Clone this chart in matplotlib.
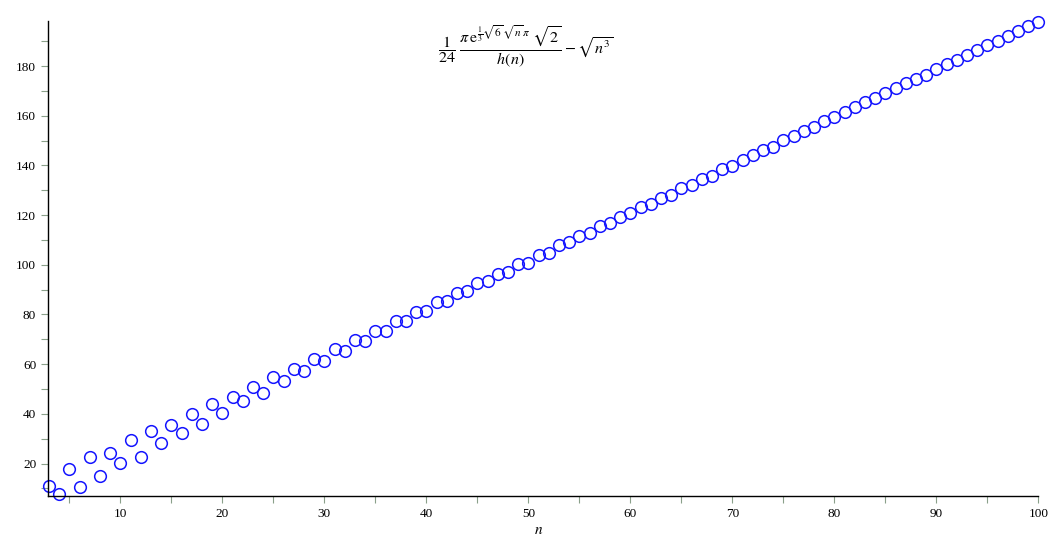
import numpy as np
import matplotlib
matplotlib.use("Agg")
import matplotlib.pyplot as plt
from matplotlib.ticker import MultipleLocator

plt.rcParams["mathtext.fontset"] = "stix"

# n values plotted
n_vals = list(range(3, 101))

# values, n = 3 .. 100
f_vals = [
    10.8, 7.7, 17.7, 10.4, 22.5, 14.9, 24.2, 20.1, 29.3, 22.5,   # 3-12
    33.2, 28.2, 35.4, 32.2, 39.8, 35.8, 43.8, 40.2, 46.7, 45.2,   # 13-22
    50.7, 48.4, 54.7, 53.1, 58.1, 57.2, 62.0, 61.3, 66.0, 65.3,   # 23-32
    69.6, 69.2, 73.2, 73.2, 77.3, 77.3, 81.0, 81.4, 85.0, 85.4,   # 33-42
    88.6, 89.5, 92.7, 93.5, 96.3, 97.0, 100.3, 100.9, 103.9, 104.9,  # 43-52
    107.8, 109.1, 111.5, 112.7, 115.5, 116.8, 119.1, 120.7, 123.1, 124.5,  # 53-62
    126.8, 128.3, 130.9, 132.3, 134.5, 135.9, 138.4, 139.8, 142.2, 144.1,  # 63-72
    146.1, 147.6, 150.2, 151.9, 153.9, 155.5, 157.8, 159.5, 161.4, 163.5,  # 73-82
    165.4, 167.2, 169.0, 171.1, 173.1, 174.8, 176.6, 178.7, 180.7, 182.3,  # 83-92
    184.5, 186.5, 188.4, 190.0, 192.1, 194.0, 196.0, 197.6,  # 93-100
]

x_ticks = [10, 20, 30, 40, 50, 60, 70, 80, 90, 100]
y_ticks = [20, 40, 60, 80, 100, 120, 140, 160, 180]

fig = plt.figure(figsize=(10.57, 5.46), dpi=100)
ax = fig.add_axes([48 / 1057, 1 - 496.3 / 546, (1038.3 - 48) / 1057, (496.3 - 21.4) / 546])

ax.plot(n_vals, f_vals, linestyle="none", marker="o", markersize=8.4,
        markerfacecolor="none", markeredgecolor="#1414ff", markeredgewidth=1.1,
        clip_on=False)

ax.set_xlim(2.9, 100)
ax.set_ylim(6.8, 198)

ax.spines["top"].set_visible(False)
ax.spines["right"].set_visible(False)
ax.spines["left"].set_linewidth(1.0)
ax.spines["bottom"].set_linewidth(1.0)

ax.set_xticks(x_ticks)
ax.set_yticks(y_ticks)
ax.xaxis.set_minor_locator(MultipleLocator(5))
ax.yaxis.set_minor_locator(MultipleLocator(10))
ax.tick_params(which="both", direction="out", color="#8aa08a", length=5, width=0.8,
               labelsize=9.5, labelcolor="black")
for lab in ax.get_xticklabels() + ax.get_yticklabels():
    lab.set_family("Liberation Serif")

ax.set_xlabel("$n$", fontsize=11, labelpad=0)
ax.xaxis.set_label_coords(0.4955, -0.055)

# the expression as title
fig.text(0.497, 0.915,
         r"$\dfrac{1}{24}\ \dfrac{\pi\, \mathrm{e}^{\frac{1}{3}\sqrt{6}\,\sqrt{n}\,\pi}\ \sqrt{2}}{h(n)} - \sqrt{n^3}$",
         ha="center", va="center", fontsize=11.5)

plt.savefig("out.png", dpi=100)
